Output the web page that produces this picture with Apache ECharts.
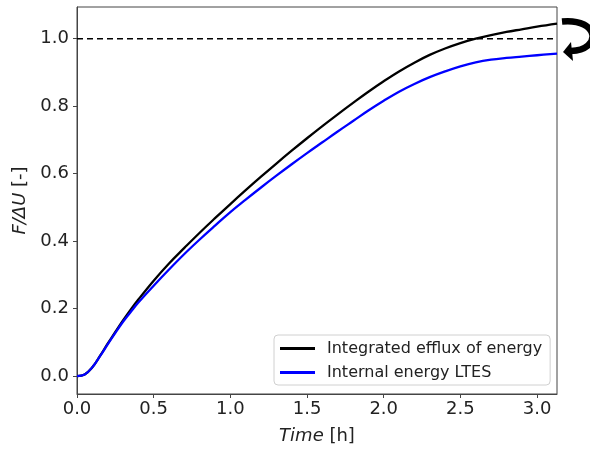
<!DOCTYPE html>
<html>
<head>
<meta charset="utf-8">
<script src="https://cdn.jsdelivr.net/npm/echarts@6/dist/echarts.min.js"></script>
<style>html,body{margin:0;padding:0;background:#fff}#c{width:590px;height:450px}</style>
</head>
<body>
<div id="c"></div>
<script>
const times    = [0, 0.05, 0.1, 0.15, 0.2, 0.25, 0.3, 0.35, 0.4, 0.5, 0.6, 0.7, 0.8, 0.9, 1.0, 1.1, 1.2, 1.3, 1.4, 1.5, 1.6, 1.7, 1.8, 1.9, 2.0, 2.1, 2.2, 2.3, 2.4, 2.5, 2.6, 2.7, 2.8, 2.9, 3.0, 3.13];
const efflux   = [0, 0.005, 0.026, 0.060, 0.096, 0.131, 0.165, 0.197, 0.227, 0.283, 0.334, 0.380, 0.425, 0.468, 0.510, 0.551, 0.591, 0.630, 0.668, 0.705, 0.741, 0.776, 0.810, 0.843, 0.874, 0.903, 0.929, 0.952, 0.971, 0.987, 1.000, 1.011, 1.020, 1.028, 1.036, 1.045];
const internal = [0, 0.005, 0.026, 0.059, 0.094, 0.128, 0.161, 0.190, 0.218, 0.268, 0.316, 0.362, 0.405, 0.446, 0.486, 0.523, 0.559, 0.594, 0.628, 0.661, 0.693, 0.725, 0.756, 0.787, 0.816, 0.843, 0.866, 0.886, 0.903, 0.918, 0.930, 0.938, 0.943, 0.947, 0.951, 0.956];
const refLine  = [[0, 1.0], [3.13, 1.0]];
const xTicks = [0, 0.5, 1.0, 1.5, 2.0, 2.5, 3.0];
const yTicks = [0, 0.2, 0.4, 0.6, 0.8, 1.0];
const seriesNames = ['Integrated efflux of energy', 'Internal energy LTES'];

const chart = echarts.init(document.getElementById('c'));
const font = 'DejaVu Sans';
const pairs = (ys) => times.map((t, i) => [t, ys[i]]);
chart.setOption({
  animation: false,
  backgroundColor: '#fff',
  grid: {left: 77, right: 33, top: 7, bottom: 56, show: true, borderColor: '#444', borderWidth: 1},
  legend: {
    data: seriesNames, orient: 'vertical', left: 274, top: 335,
    padding: [5, 8, 4, 6], itemGap: 7, itemWidth: 35, itemHeight: 3, icon: 'rect',
    borderColor: '#d0d0d0', borderWidth: 1, borderRadius: 4, backgroundColor: '#fff',
    textStyle: {fontFamily: font, fontSize: 16, lineHeight: 17, color: '#222', padding: [0, 0, 0, 7]}
  },
  xAxis: {
    type: 'value', min: 0, max: 3.13,
    name: '{i|Time} [h]', nameLocation: 'middle', nameGap: 33,
    nameTextStyle: {fontFamily: font, fontSize: 18, color: '#222', rich: {i: {fontFamily: font, fontSize: 18, fontStyle: 'italic', color: '#222'}}},
    axisLine: {show: true, onZero: false, lineStyle: {color: '#444', width: 1}},
    axisTick: {show: true, inside: false, length: 4, customValues: xTicks, lineStyle: {color: '#444'}},
    axisLabel: {customValues: xTicks, fontFamily: font, fontSize: 18, color: '#222', margin: 6, formatter: v => v.toFixed(1)},
    splitLine: {show: false}
  },
  yAxis: {
    type: 'value', min: -0.053, max: 1.094,
    name: '{i|F/ΔU} [-]', nameLocation: 'middle', nameGap: 42, nameRotate: 90,
    nameTextStyle: {fontFamily: font, fontSize: 18, color: '#222', rich: {i: {fontFamily: font, fontSize: 18, fontStyle: 'italic', color: '#222'}}},
    axisLine: {show: true, onZero: false, lineStyle: {color: '#444', width: 1}},
    axisTick: {show: true, inside: false, length: 4, customValues: yTicks, lineStyle: {color: '#444'}},
    axisLabel: {customValues: yTicks, fontFamily: font, fontSize: 18, color: '#222', margin: 8, formatter: v => v.toFixed(1)},
    splitLine: {show: false}
  },
  series: [
    {name: 'ref', type: 'line', data: refLine, showSymbol: false, silent: true,
     lineStyle: {color: '#000', width: 1.5, type: [6, 4]}},
    {name: seriesNames[0], type: 'line', data: pairs(efflux), smooth: 0.4, showSymbol: false,
     itemStyle: {color: '#000'}, lineStyle: {color: '#000', width: 2.3}},
    {name: seriesNames[1], type: 'line', data: pairs(internal), smooth: 0.4, showSymbol: false,
     itemStyle: {color: '#0000ff'}, lineStyle: {color: '#0000ff', width: 2.3}}
  ],
  graphic: [
    {type: 'bezierCurve', shape: {x1: 562, y1: 21.5, x2: 571, y2: 51, cpx1: 600, cpy1: 18, cpx2: 602, cpy2: 50}, style: {stroke: '#000', lineWidth: 6.5, fill: null}},
    {type: 'polygon', shape: {points: [[563, 52], [571, 42], [573, 61]]}, style: {fill: '#000'}}
  ]
});
</script>
</body>
</html>
